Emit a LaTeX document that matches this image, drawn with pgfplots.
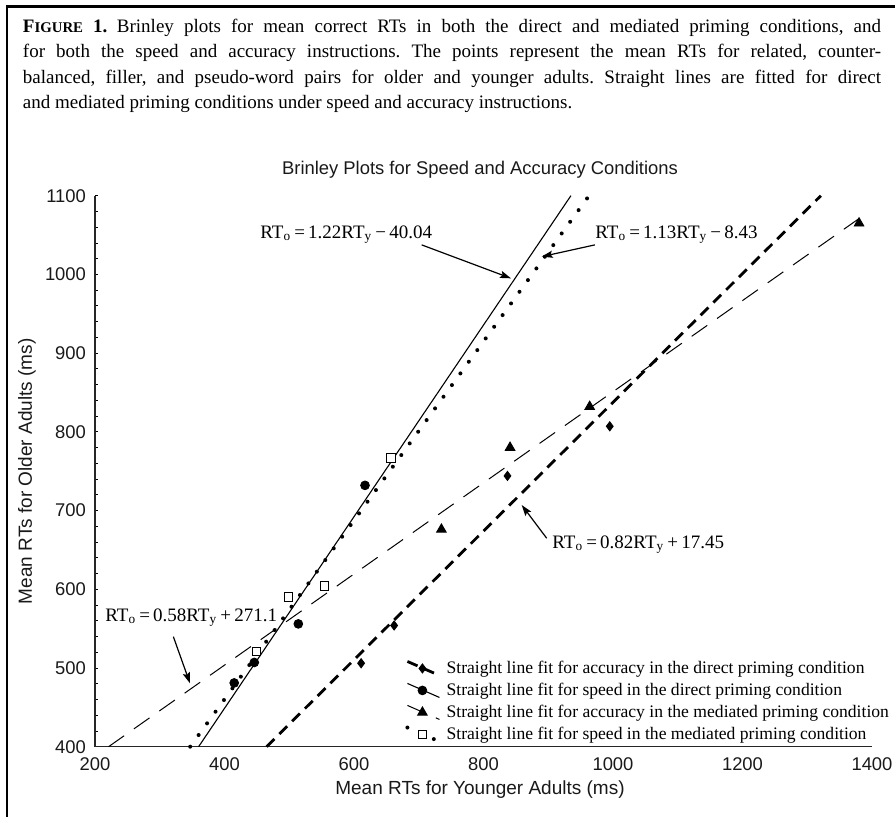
\documentclass[border=0pt]{standalone}
\usepackage{fontspec}
\setmainfont{Liberation Serif}
\setsansfont{Liberation Sans}
\usepackage{pgfplots}
\pgfplotsset{compat=1.18}
\usetikzlibrary{arrows.meta}

\tikzset{
  accdirline/.style={line width=1.4pt, dash pattern=on 5.5pt off 3.5pt},
  spddirline/.style={line width=0.55pt},
  accmedline/.style={line width=0.5pt, dash pattern=on 9.5pt off 6pt},
  spdmedline/.style={line width=2pt, line cap=round, dash pattern=on 0pt off 7.2pt},
  eqn/.style={anchor=base west, inner sep=0pt, font=\fontsize{9.5}{11}\selectfont},
  callout/.style={line width=0.6pt, -{Stealth[length=5.5pt,width=3.6pt,inset=1pt]}},
}
% legend image: slanted fit line with the marker in its middle
\pgfplotsset{
  fitlegend/.style={legend image code/.code={%
      \draw[black,#1] (0pt,3.5pt) -- (16pt,-3.5pt);
      \draw[##1] plot coordinates {(7.5pt,0pt)};}},
}

\begin{document}
\frenchspacing
\begin{tikzpicture}
% frame round the figure
\draw[line width=1.15pt] (3.5pt,0pt) -- (3.5pt,405.2pt) -- (447.5pt,405.2pt);

\node[anchor=north west, inner sep=0pt, text width=429pt, align=justify,
      font=\fontsize{9.5}{12.7}\selectfont] at (11.3pt,399.1pt)
 {\textbf{F{\fontsize{7.4}{8}\selectfont IGURE} 1.}\enspace Brinley plots for mean correct RTs in both the direct and mediated priming conditions, and\linebreak
  for both the speed and accuracy instructions. The points represent the mean RTs for related, counter-\linebreak
  balanced, filler, and pseudo-word pairs for older and younger adults. Straight lines are fitted for direct\linebreak
  and mediated priming conditions under speed and accuracy instructions.};

\begin{axis}[
    at={(47.5pt,35.15pt)}, anchor=south west,
    scale only axis, width=388.5pt, height=275.5pt,
    xmin=200, xmax=1400, ymin=400, ymax=1100,
    axis x line*=bottom, axis y line*=left,
    axis line style={line width=0.65pt, black!85, -},
    xtick={200,400,...,1400}, ytick={400,500,...,1100},
    minor y tick num=4,
    xtick style={draw=none},
    ytick style={line width=0.4pt, black},
    tick align=inside,
    major tick length=1.6pt, minor tick length=1.6pt,
    /pgf/number format/assume math mode=true,
    /pgf/number format/set thousands separator={},
    tick label style={font=\sffamily\fontsize{9.2}{10}\selectfont, black!90},
    xticklabel style={yshift=-2pt},
    yticklabel style={xshift=-1pt},
    label style={font=\sffamily\fontsize{9.5}{10}\selectfont, black!90},
    title={Brinley Plots for Speed and Accuracy Conditions},
    title style={font=\sffamily\fontsize{9.2}{10}\selectfont, black!90,
                 at={(axis description cs:0.4955,1.0466)}, anchor=center, yshift=-6pt},
    xlabel={Mean RTs for Younger Adults (ms)},
    ylabel={Mean RTs for Older Adults (ms)},
    xlabel style={at={(axis description cs:0.4955,-0.0775)}, anchor=center},
    ylabel style={at={(axis description cs:-0.0875,0.5)}, anchor=center},
    clip=false,
    legend cell align=left,
    legend style={draw=none, fill=none, inner sep=0pt, row sep=2.1pt,
                  at={(axis description cs:0.399,0.005)}, anchor=south west,
                  font=\fontsize{8.8}{10}\selectfont,
                  nodes={inner sep=0.6pt},
                  /tikz/every odd column/.append style={column sep=2pt}},
]
% fitted lines
\addplot[black, accdirline, forget plot] coordinates {(465,400) (1321,1100)};
\addplot[black, spddirline, forget plot] coordinates {(360,400) (935,1100)};
\addplot[black, accmedline, forget plot] coordinates {(221,400) (1387,1075)};
\addplot[black, spdmedline, forget plot] coordinates {(347,400) (963,1100)};

% accuracy, direct priming
\addplot[black, only marks, mark=diamond*, mark size=2.3pt, fitlegend=accdirline]
  coordinates {(611,506) (662,554) (837,744) (995,807)};
\addlegendentry{Straight line fit for accuracy in the direct priming condition}

% speed, direct priming
\addplot[black, only marks, mark=*, mark size=2.2pt, fitlegend=spddirline]
  coordinates {(415,481) (446,507) (514,556) (617,732)};
\addlegendentry{Straight line fit for speed in the direct priming condition}

% accuracy, mediated priming
\addplot[black, only marks, mark=triangle*, mark size=2.8pt, fitlegend=accmedline]
  coordinates {(735,676) (841,780) (964,832) (1380,1065)};
\addlegendentry{Straight line fit for accuracy in the mediated priming condition}

% speed, mediated priming
\addplot[black, only marks, mark=square*, mark size=2.1pt,
  mark options={fill=white, line width=0.5pt}, fitlegend=spdmedline]
  coordinates {(449,521) (499,590) (554,604) (657,767)};
\addlegendentry{Straight line fit for speed in the mediated priming condition}

% fitted equations and their arrows
\node[eqn] at (axis cs:454.8,1046) {RT\textsubscript{o}\,=\,1.22RT\textsubscript{y}\,−\,40.04};
\draw[callout] (axis cs:704.5,1037.5) -- (axis cs:842.5,995);

\node[eqn] at (axis cs:972.2,1046) {RT\textsubscript{o}\,=\,1.13RT\textsubscript{y}\,−\,8.43};
\draw[callout] (axis cs:972,1037.5) -- (axis cs:890,1022.6);

\node[eqn] at (axis cs:905.8,652) {RT\textsubscript{o}\,=\,0.82RT\textsubscript{y}\,+\,17.45};
\draw[callout] (axis cs:897.6,664.8) -- (axis cs:859,707);

\node[eqn] at (axis cs:215.4,558.8) {RT\textsubscript{o}\,=\,0.58RT\textsubscript{y}\,+\,271.1};
\draw[callout] (axis cs:321,539.8) -- (axis cs:346.7,480.5);
\end{axis}

\pgfresetboundingbox
\path[use as bounding box] (0pt,0pt) rectangle (447.5pt,408.5pt);
\end{tikzpicture}
\end{document}
